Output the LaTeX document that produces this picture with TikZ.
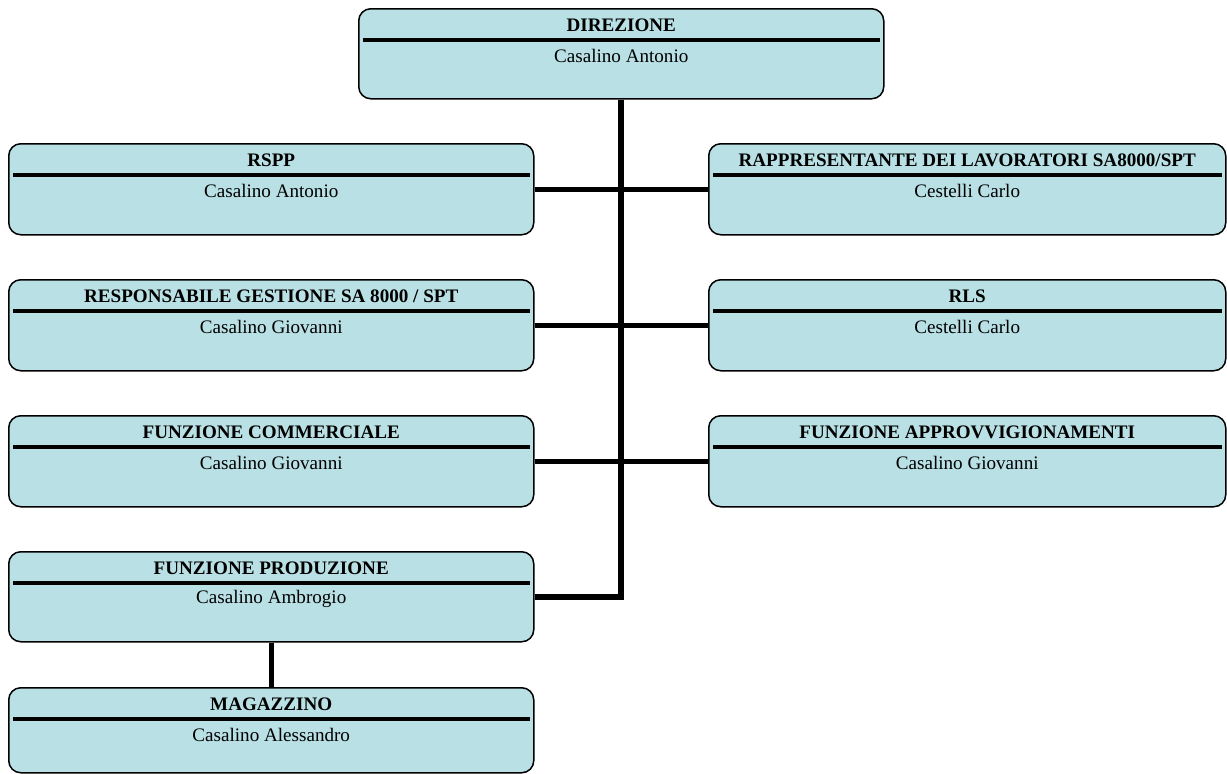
\documentclass[tikz,border=0pt]{standalone}
\usepackage{fontspec}
\setmainfont{Liberation Serif}
\usetikzlibrary{calc}
\definecolor{boxfill}{RGB}{185,224,228}
\tikzset{
  orgbox/.style={draw=black, line width=1.5pt, fill=boxfill, rounded corners=12pt, inner sep=0pt, anchor=north west},
  titletxt/.style={font=\fontsize{19.1}{22}\selectfont\bfseries, inner sep=0pt},
  nametxt/.style={font=\fontsize{19.1}{22}\selectfont, inner sep=0pt},
  sepline/.style={line width=4pt},
  conn/.style={line width=6pt},
  connthin/.style={line width=5pt}
}
\newcommand\mkbox[7]{%
  \node[orgbox, minimum width=#4, minimum height=#5] (#1) at (#2,#3) {};
  \draw[sepline] ($(#1.north west)+(5,32)$) -- ($(#1.north east)+(-5,32)$);
  \node[titletxt] (#1T) at ($(#1.north)+(0,17)$) {#6};
  \node[nametxt] (#1N) at ($(#1.north)+(0,48)$) {#7};
}
\begin{document}
\begin{tikzpicture}[x=1pt,y=-1pt]
\useasboundingbox (0,0) rectangle (1227,774);
% boxes
\mkbox{dir}{358}{8}{525}{90}{DIREZIONE}{Casalino Antonio}
\mkbox{rspp}{8}{143}{525}{91}{RSPP}{Casalino Antonio}
\mkbox{rapp}{708}{143}{517}{91}{RAPPRESENTANTE DEI LAVORATORI SA8000/SPT}{Cestelli Carlo}
\mkbox{resp}{8}{279}{525}{91}{RESPONSABILE GESTIONE SA 8000 / SPT}{Casalino Giovanni}
\mkbox{rls}{708}{279}{517}{91}{RLS}{Cestelli Carlo}
\mkbox{comm}{8}{415}{525}{91}{FUNZIONE COMMERCIALE}{Casalino Giovanni}
\mkbox{appr}{708}{415}{517}{91}{FUNZIONE APPROVVIGIONAMENTI}{Casalino Giovanni}
\mkbox{prod}{8}{551}{525}{90}{FUNZIONE PRODUZIONE}{Casalino Ambrogio}
\mkbox{mag}{8}{687}{525}{85}{MAGAZZINO}{Casalino Alessandro}
% connectors
\draw[conn] (dir.south) -- (dir.south |- prod.east) -- (prod.east);
\draw[connthin] (rspp.east) -- (rapp.west);
\draw[connthin] (resp.east) -- (rls.west);
\draw[connthin] (comm.east) -- (appr.west);
\draw[connthin] (prod.south) -- (mag.north);
\end{tikzpicture}
\end{document}
